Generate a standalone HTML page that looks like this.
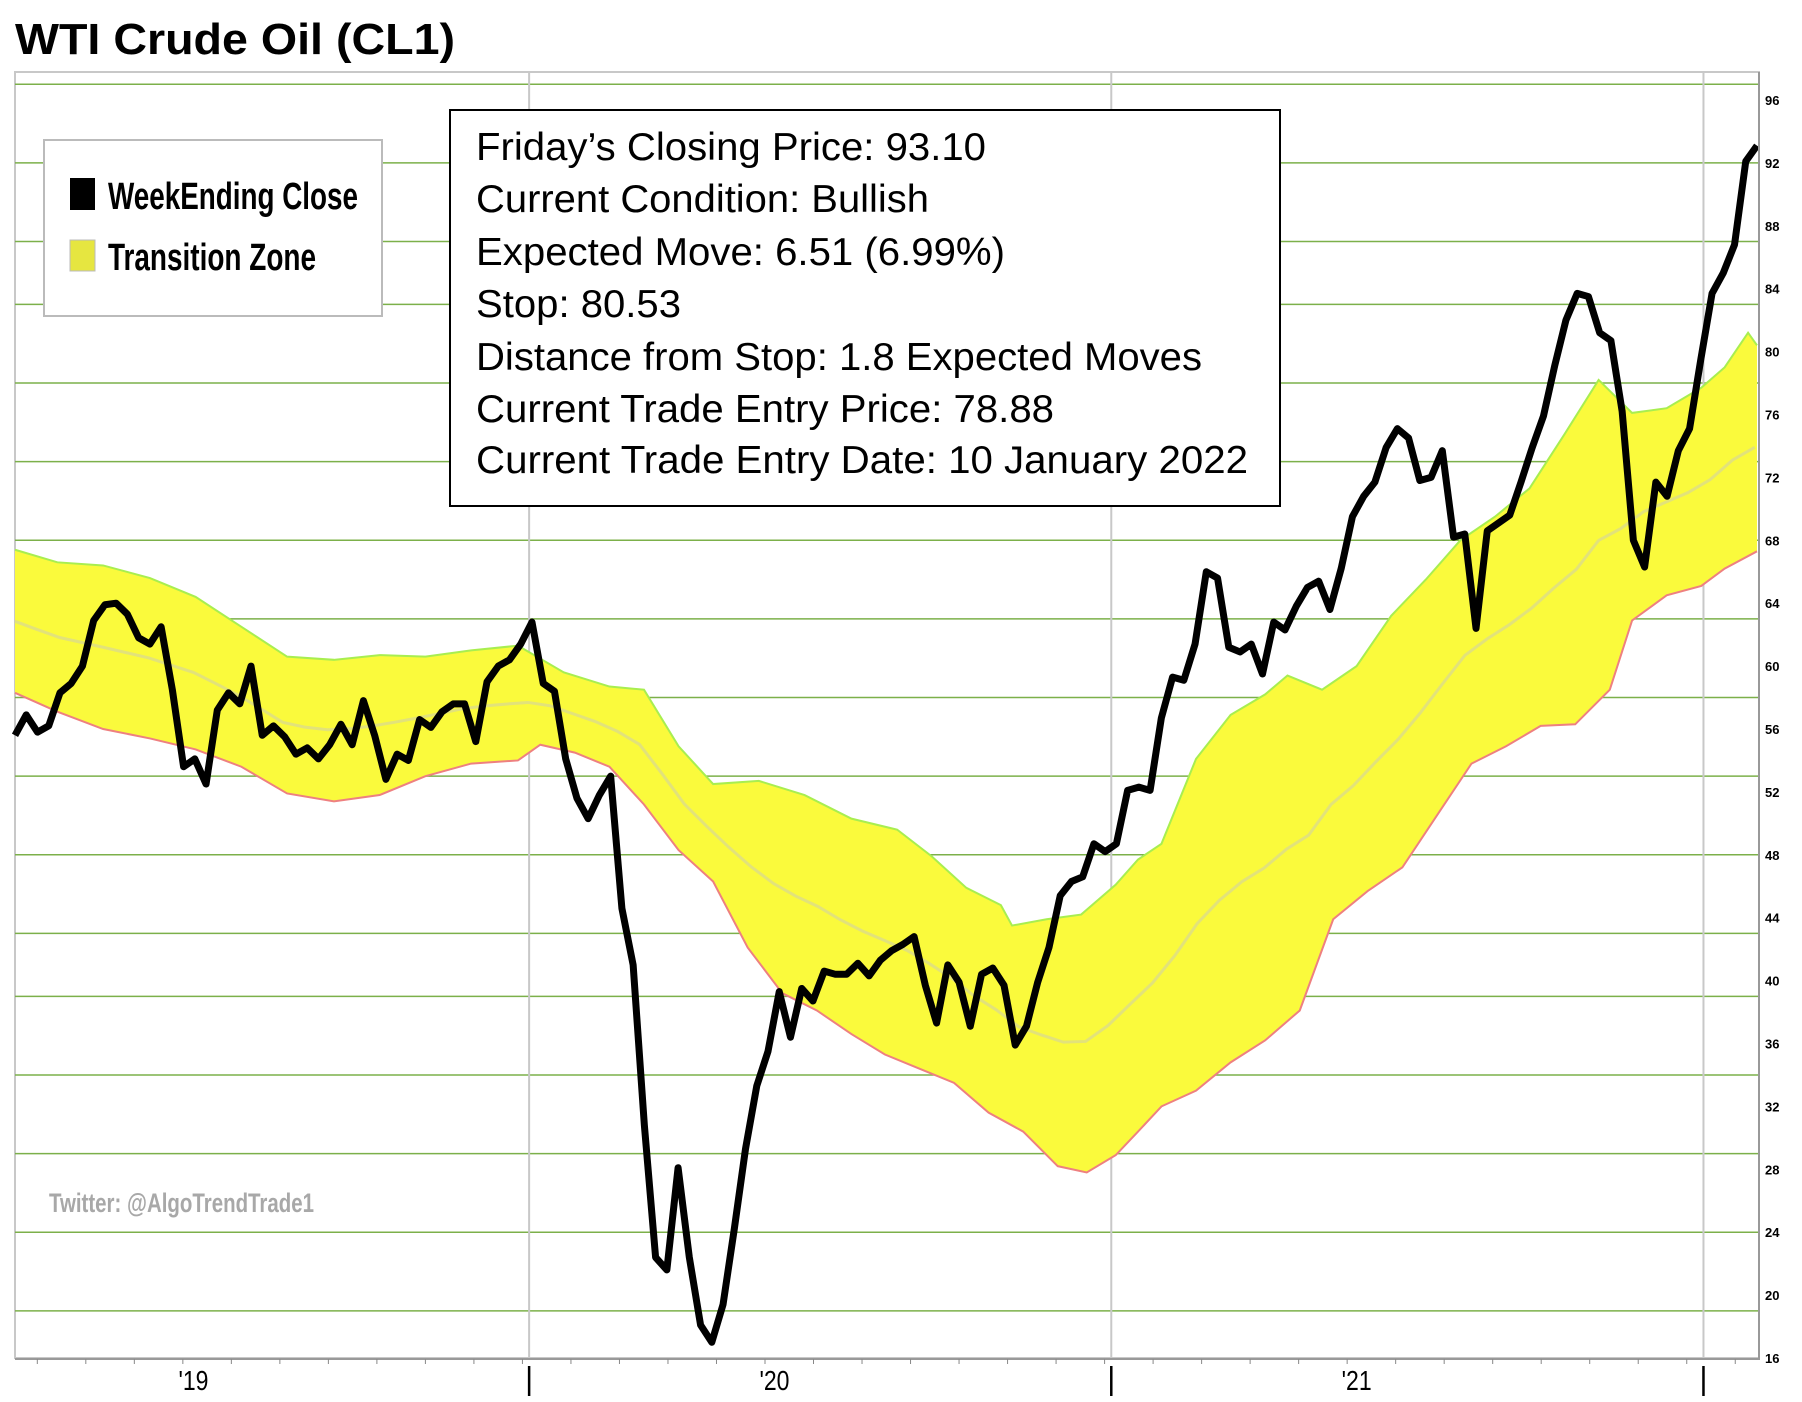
<!DOCTYPE html>
<html><head><meta charset="utf-8"><style>
body{margin:0;background:#fff;}
svg{display:block;font-family:"Liberation Sans",sans-serif;}
</style></head><body>
<svg id="chart" width="1802" height="1402" viewBox="0 0 1802 1402" xmlns="http://www.w3.org/2000/svg">
<text x="15" y="54" font-size="44" font-weight="bold" textLength="440" lengthAdjust="spacingAndGlyphs">WTI Crude Oil (CL1)</text>
<g id="grid"></g>
<g id="band"></g>
<g id="line"></g>
<g id="axes"></g>
<g>
<rect x="44" y="140" width="338" height="176" fill="#fff" stroke="#bbb" stroke-width="2"/>
<rect x="70" y="178" width="25" height="32" fill="#000"/>
<text x="108" y="209" font-size="38" font-weight="bold" textLength="250" lengthAdjust="spacingAndGlyphs">WeekEnding Close</text>
<rect x="70" y="240" width="25" height="31" fill="#e6e640" stroke="#bbb"/>
<text x="108" y="270" font-size="38" font-weight="bold" textLength="208" lengthAdjust="spacingAndGlyphs">Transition Zone</text>
</g>
<g font-size="39">
<rect x="450" y="110" width="830" height="396" fill="#fff" stroke="#000" stroke-width="2"/>
<text x="476" y="160" textLength="510" lengthAdjust="spacingAndGlyphs">Friday’s Closing Price: 93.10</text>
<text x="476" y="212" textLength="453" lengthAdjust="spacingAndGlyphs">Current Condition: Bullish</text>
<text x="476" y="265" textLength="529" lengthAdjust="spacingAndGlyphs">Expected Move: 6.51 (6.99%)</text>
<text x="476" y="317" textLength="205" lengthAdjust="spacingAndGlyphs">Stop: 80.53</text>
<text x="476" y="370" textLength="726" lengthAdjust="spacingAndGlyphs">Distance from Stop: 1.8 Expected Moves</text>
<text x="476" y="422" textLength="578" lengthAdjust="spacingAndGlyphs">Current Trade Entry Price: 78.88</text>
<text x="476" y="473" textLength="772" lengthAdjust="spacingAndGlyphs">Current Trade Entry Date: 10 January 2022</text>
</g>
<text x="49" y="1212" font-size="27" font-weight="bold" fill="#a8a8a8" textLength="265" lengthAdjust="spacingAndGlyphs">Twitter: @AlgoTrendTrade1</text>
</svg>
<script>
const closeVals=[55.6,56.9,55.8,56.2,58.3,58.9,60.0,62.9,63.9,64.0,63.3,61.8,61.4,62.5,58.5,53.6,54.1,52.5,57.2,58.3,57.6,60.0,55.6,56.2,55.5,54.4,54.8,54.1,55.0,56.3,55.0,57.8,55.6,52.8,54.4,54.0,56.6,56.1,57.1,57.6,57.6,55.2,59.0,60.0,60.4,61.4,62.8,58.9,58.4,54.1,51.6,50.3,51.8,53.0,44.6,41.0,30.8,22.4,21.6,28.1,22.4,18.1,17.0,19.4,24.2,29.3,33.3,35.5,39.3,36.4,39.5,38.7,40.6,40.4,40.4,41.1,40.3,41.3,41.9,42.3,42.8,39.7,37.3,41.0,39.9,37.1,40.4,40.8,39.7,35.9,37.1,39.9,42.1,45.4,46.3,46.6,48.7,48.2,48.7,52.1,52.3,52.1,56.7,59.3,59.1,61.4,66.0,65.6,61.2,60.9,61.4,59.5,62.8,62.3,63.8,65.0,65.4,63.6,66.2,69.5,70.8,71.7,73.9,75.1,74.5,71.8,72.0,73.7,68.2,68.4,62.4,68.6,69.1,69.6,71.7,73.9,75.9,79.1,82.0,83.7,83.5,81.2,80.7,76.2,68.0,66.3,71.7,70.8,73.7,75.1,79.5,83.7,85.0,86.8,92.1,93.1];
const upperWeeks=[0,3.8,7.9,12.1,16.2,20.3,24.4,28.6,32.7,36.8,40.9,45.1,49.2,53.3,56.4,59.5,62.6,66.7,70.8,75,79.1,82.2,85.3,88.4,89.4,92.5,95.6,98.7,100.7,102.8,105.9,109,112.1,114.1,117.2,120.3,123.4,126.5,129.6,132.7,135.8,138.9,142,145,148.1,151.2,153.3,155.4,156.2];
const upperVals=[67.4,66.6,66.4,65.6,64.4,62.5,60.6,60.4,60.7,60.6,61.0,61.3,59.6,58.7,58.5,54.9,52.5,52.7,51.8,50.3,49.6,47.9,45.9,44.8,43.5,43.9,44.2,46.1,47.7,48.7,54.1,56.9,58.2,59.4,58.5,60.0,63.2,65.5,68.0,69.5,71.3,74.7,78.2,76.1,76.4,77.7,79.0,81.2,80.4];
const lowerWeeks=[0,3.8,7.9,12.1,16.2,20.3,24.4,28.6,32.7,36.8,40.9,45.1,47.1,50.2,53.3,56.4,59.5,62.6,65.7,68.8,71.9,75,78,81.1,84.2,87.3,90.4,93.5,96.1,98.7,100.7,102.8,105.9,109,112.1,115.2,118.2,121.3,124.4,127.5,130.6,133.7,136.8,139.9,143,145,148.1,151.2,153.3,156.2];
const lowerVals=[58.3,57.1,56.0,55.4,54.7,53.6,51.9,51.4,51.8,53.0,53.8,54.0,55.0,54.5,53.6,51.2,48.3,46.3,42.1,39.2,38.1,36.6,35.3,34.4,33.5,31.6,30.4,28.2,27.8,28.9,30.4,32.0,33.0,34.8,36.2,38.1,43.9,45.7,47.2,50.5,53.8,54.9,56.2,56.3,58.5,62.9,64.5,65.1,66.2,67.3];
const gridVals=[97,92,87,83,78,73,68,63,58,53,48,43,39,34,29,24,19];
const yTicks=[96,92,88,84,80,76,72,68,64,60,56,52,48,44,40,36,32,28,24,20,16];
const yearWeeks=[46.1,98.3,151.4];
const yearLabels=["'19","'20","'21"];
const yearLabelWeeks=[16.0,68.1,120.3];

const NS='http://www.w3.org/2000/svg';
const X0=15,X1=1757,WMAX=156.2,YB=1358,PPU=15.725,XR=1759,YT=72;
const xs=w=>X0+w*(X1-X0)/WMAX;
const ys=v=>YB-(v-16)*PPU;
function mk(tag,attrs,parent){const e=document.createElementNS(NS,tag);for(const k in attrs)e.setAttribute(k,attrs[k]);parent.appendChild(e);return e;}
const grid=document.getElementById('grid'),band=document.getElementById('band'),line=document.getElementById('line'),axes=document.getElementById('axes');

let fr=mk('rect',{x:15,y:YT,width:XR-15,height:YB-YT,fill:'none',stroke:'#c8c8c8','stroke-width':2},grid);


gridVals.forEach(v=>{const l=mk('line',{x1:15,x2:XR,y1:ys(v),y2:ys(v),stroke:'#7cb04a','stroke-width':1.5},grid);

});
yearWeeks.forEach(w=>{const l=mk('line',{x1:xs(w),x2:xs(w),y1:YT,y2:YB,stroke:'#c8c8c8','stroke-width':2},grid);

});

const up=upperWeeks.map((w,i)=>[xs(w),ys(upperVals[i])]);
const lo=lowerWeeks.map((w,i)=>[xs(w),ys(lowerVals[i])]);
const poly=up.concat(lo.slice().reverse()).map(p=>p.join(',')).join(' ');
let bp=mk('polygon',{points:poly,fill:'#fafa3c',stroke:'none'},band);


let ue=mk('polyline',{points:up.map(p=>p.join(',')).join(' '),fill:'none',stroke:'#a8ee50','stroke-width':2},band);


let le=mk('polyline',{points:lo.map(p=>p.join(',')).join(' '),fill:'none',stroke:'#ee8080','stroke-width':2},band);


function interp(ws,vs,w){for(let i=1;i<ws.length;i++){if(w<=ws[i]){const t=(w-ws[i-1])/(ws[i]-ws[i-1]);return vs[i-1]+t*(vs[i]-vs[i-1]);}}return vs[vs.length-1];}
const mid=[];for(let w=0;w<=WMAX;w+=2){mid.push([xs(w),ys((interp(upperWeeks,upperVals,w)+interp(lowerWeeks,lowerVals,w))/2)]);}
let ml=mk('polyline',{points:mid.map(p=>p.join(',')).join(' '),fill:'none',stroke:'#e2e27a','stroke-width':3},band);



const step=WMAX/(closeVals.length-1);
const cp=closeVals.map((v,i)=>xs(i*step)+','+ys(v)).join(' ');
let cl=mk('polyline',{points:cp,fill:'none',stroke:'#000','stroke-width':7,'stroke-linejoin':'round'},line);



let ra=mk('line',{x1:XR,x2:XR,y1:YT,y2:YB+2,stroke:'#999','stroke-width':2},axes);


let ba=mk('line',{x1:15,x2:XR,y1:YB+1,y2:YB+1,stroke:'#999','stroke-width':2},axes);


yTicks.forEach(v=>{const t=mk('text',{x:XR+6,y:ys(v)+5,'font-size':13,'font-weight':'bold'},axes);t.textContent=v;

});
for(let w=2;w<WMAX;w+=4.35){const t=mk('line',{x1:xs(w),x2:xs(w),y1:YB+1,y2:YB+6,stroke:'#888','stroke-width':1},axes);

}
yearWeeks.forEach(w=>{const t=mk('line',{x1:xs(w),x2:xs(w),y1:YB+8,y2:YB+38,stroke:'#000','stroke-width':2.5},axes);

});
yearLabels.forEach((s,i)=>{const t=mk('text',{x:xs(yearLabelWeeks[i]),y:YB+32,'font-size':28,'text-anchor':'middle',textLength:30,lengthAdjust:'spacingAndGlyphs'},axes);t.textContent=s;

});
</script>
</body></html>
